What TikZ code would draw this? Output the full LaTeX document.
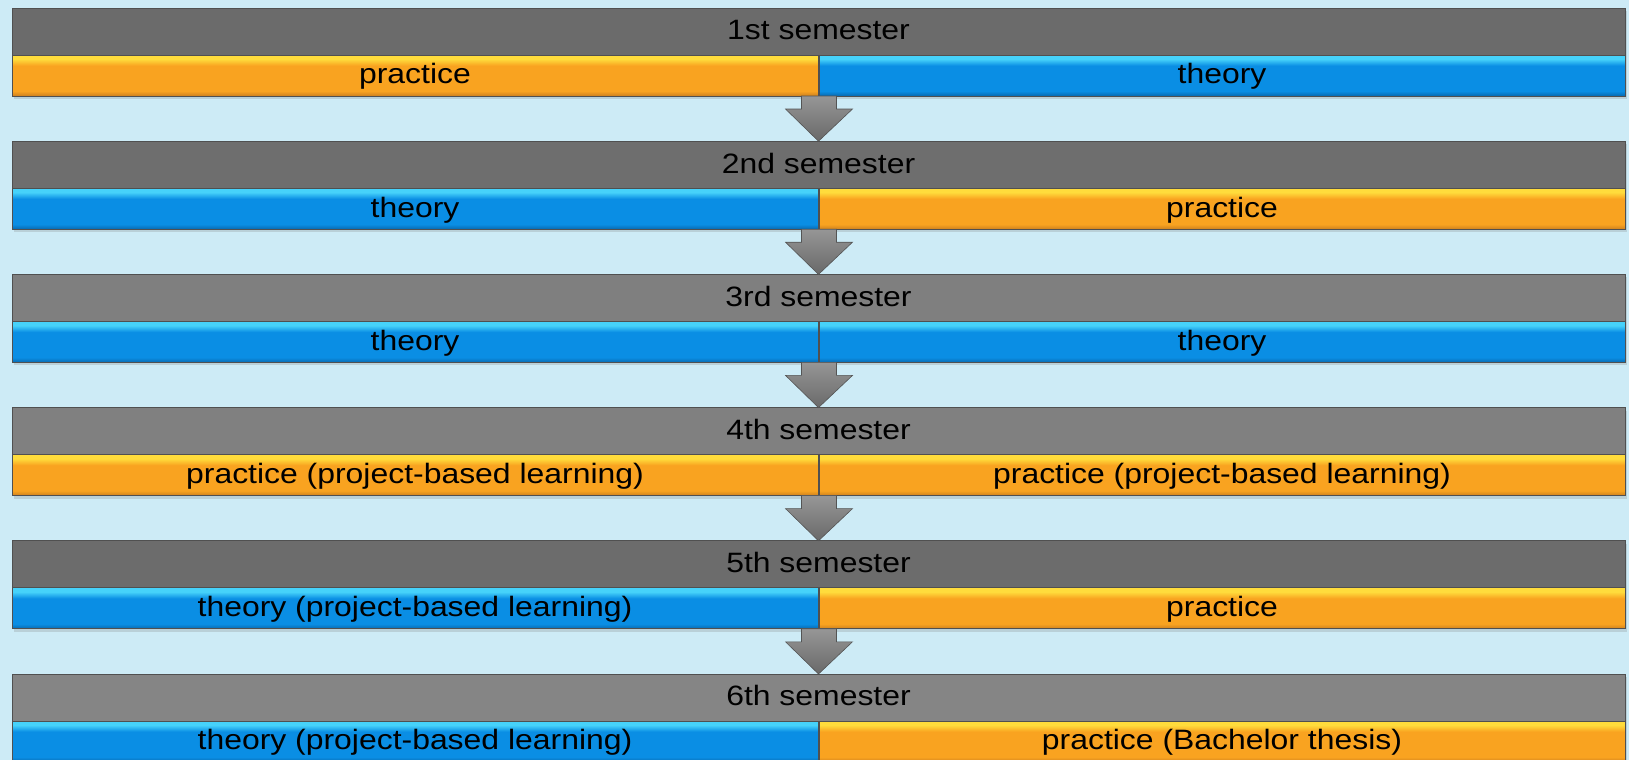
\documentclass[tikz,border=0pt]{standalone}
\usepackage{fontspec}
\setmainfont{Liberation Sans}[FakeStretch=1.14]
\usetikzlibrary{calc,shadows}
\definecolor{bgc}{RGB}{205,235,246}
\definecolor{orL}{RGB}{255,220,60}
\definecolor{orM}{RGB}{249,163,32}
\definecolor{orD}{RGB}{205,128,30}
\definecolor{blL}{RGB}{70,210,250}
\definecolor{blM}{RGB}{10,142,228}
\definecolor{blD}{RGB}{8,105,175}
\definecolor{edgec}{RGB}{80,80,80}
\definecolor{arrL}{RGB}{150,150,150}
\definecolor{arrD}{RGB}{105,105,105}
\definecolor{gA}{RGB}{107,107,107}
\definecolor{gB}{RGB}{110,110,110}
\definecolor{gC}{RGB}{127,127,127}
\definecolor{gD}{RGB}{128,128,128}
\definecolor{gE}{RGB}{108,108,108}
\definecolor{gF}{RGB}{133,133,133}
\pgfdeclareverticalshading{orsh}{100bp}{color(0bp)=(orD); color(25bp)=(orD); color(31bp)=(orM); color(62bp)=(orM); color(70bp)=(orL); color(75bp)=(orL); color(100bp)=(orL)}
\pgfdeclareverticalshading{blsh}{100bp}{color(0bp)=(blD); color(25bp)=(blD); color(31bp)=(blM); color(62bp)=(blM); color(70bp)=(blL); color(75bp)=(blL); color(100bp)=(blL)}
\pgfdeclareverticalshading{arsh}{100bp}{color(0bp)=(arrD); color(25bp)=(arrD); color(75bp)=(arrL); color(100bp)=(arrL)}
\tikzset{
  bar/.style={inner sep=0pt, outer sep=0pt, draw=edgec, line width=0.4pt,
    font=\fontsize{14}{17}\selectfont, text=black, text height=10pt, text depth=1.6pt,
    drop shadow={opacity=0.25, shadow xshift=1.2pt, shadow yshift=-1.5pt}},
  graybar/.style={bar, minimum width=806.5pt, minimum height=23.5pt, fill=#1},
  colbar/.style={bar, minimum width=403pt, minimum height=20.5pt},
  obar/.style={colbar, shading=orsh},
  bbar/.style={colbar, shading=blsh},
  blockarrow/.style={shading=arsh, draw=arrD!80!black, line width=0.3pt, line join=miter},
}
\begin{document}
\begin{tikzpicture}[x=0.5pt,y=-0.5pt]
\fill[bgc] (0,0) rectangle (1629,760);
\useasboundingbox (0,0) rectangle (1629,760);
\clip (0,0) rectangle (1629,760);

% row 1
\node[graybar=gA] (s1) at (818.5,31.5) {1st semester};
\node[obar] (l1) at (415,75.5) {practice};
\node[bbar] (r1) at (1222,75.5) {theory};
% row 2
\node[graybar=gB] (s2) at (818.5,164.7) {2nd semester};
\node[bbar] (l2) at (415,208.7) {theory};
\node[obar] (r2) at (1222,208.7) {practice};
% row 3
\node[graybar=gC] (s3) at (818.5,297.9) {3rd semester};
\node[bbar] (l3) at (415,341.9) {theory};
\node[bbar] (r3) at (1222,341.9) {theory};
% row 4
\node[graybar=gD] (s4) at (818.5,431.1) {4th semester};
\node[obar] (l4) at (415,475.1) {practice (project-based learning)};
\node[obar] (r4) at (1222,475.1) {practice (project-based learning)};
% row 5
\node[graybar=gE] (s5) at (818.5,564.3) {5th semester};
\node[bbar] (l5) at (415,608.3) {theory (project-based learning)};
\node[obar] (r5) at (1222,608.3) {practice};
% row 6
\node[graybar=gF] (s6) at (818.5,697.5) {6th semester};
\node[bbar] (l6) at (415,741.5) {theory (project-based learning)};
\node[obar] (r6) at (1222,741.5) {practice (Bachelor thesis)};

% arrows
\foreach \a/\b in {l1/s2,l2/s3,l3/s4,l4/s5,l5/s6}{
  \path[blockarrow] ($(\a.south east)+(-16.5,0)$) -- ($(\a.south east)+(-16.5,13)$)
    -- ($(\a.south east)+(-32.5,13)$) -- (\b.north)
    -- ($(\a.south east)+(34.5,13)$) -- ($(\a.south east)+(18.5,13)$)
    -- ($(\a.south east)+(18.5,0)$) -- cycle;
}
\end{tikzpicture}
\end{document}
